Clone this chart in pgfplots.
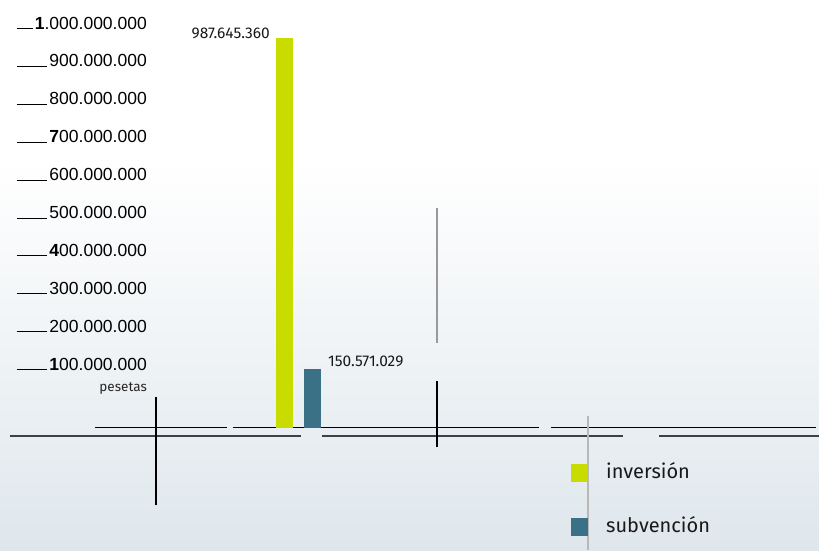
\documentclass[border=0pt]{standalone}
\usepackage{fontspec}
\setmainfont{Liberation Sans}
\newfontfamily\labelfont{Fira Sans}
\usepackage{pgfplots}
\pgfplotsset{compat=1.18}

\definecolor{inv}{HTML}{C8DC00}
\definecolor{sub}{HTML}{3B7186}
\definecolor{bgbot}{HTML}{DFE7EC}

% dash + label, right aligned
\newcommand{\tl}[1]{\hbox to 130pt{\leaders\hrule height 0.9pt\hfill\kern2pt #1}}

\begin{document}
\begin{tikzpicture}
\path[use as bounding box] (0,0) rectangle (819pt,550pt);
\fill[white] (0,0) rectangle (819pt,550pt);
\shade[top color=white,bottom color=bgbot] (0,0) rectangle (819pt,390pt);

% decoration, pixel coords (y down)
\begin{scope}[x=1pt,y=-1pt,yshift=550pt]
\draw[black,line width=1.2pt] (95,427.5)--(227,427.5) (233,427.5)--(539,427.5) (551,427.5)--(816,427.5);
\draw[black!75,line width=2pt] (10,436)--(301,436) (322,436)--(623,436) (659,436)--(819,436);
\draw[black,line width=1.3pt] (156,397)--(156,505);
\draw[black!40,line width=1.3pt] (437,208)--(437,343);
\draw[black,line width=1.2pt] (437,381)--(437,447);
\draw[black!28,line width=2pt] (588,416)--(588,550);
\node[anchor=east,inner sep=0pt,font=\labelfont\fontsize{13.5}{13.5}\selectfont,text=black!85] at (147,389) {pesetas};
\end{scope}

% scale labels
\begin{axis}[
    at={(150pt,148.1pt)}, anchor=south west,
    scale only axis, width=10pt, height=378.9pt,
    xmin=0, xmax=1, ymin=0, ymax=1000,
    axis x line=none, axis y line=left,
    y axis line style={draw=none},
    major tick length=0pt,
    ytick={100,200,300,400,500,600,700,800,900,1000},
    yticklabels={\tl{\textbf{1}00.000.000},\tl{200.000.000},\tl{300.000.000},
        \tl{\textbf{4}00.000.000},\tl{500.000.000},\tl{600.000.000},
        \tl{\textbf{7}00.000.000},\tl{800.000.000},\tl{900.000.000},
        \tl{\textbf{1}.000.000.000}},
    yticklabel style={anchor=east,inner sep=0pt,xshift=-3pt,
        font=\fontsize{17.5}{17.5}\selectfont,text=black},
]
\end{axis}

% bars
\begin{axis}[
    at={(0pt,122pt)}, anchor=south west,
    scale only axis, width=819pt, height=428pt,
    xmin=0, xmax=819, ymin=0, ymax=1083900000,
    hide axis, clip=false,
    ybar, bar width=17, bar shift=0pt,
    point meta=explicit symbolic,
    nodes near coords,
    every node near coord/.append style={inner sep=0pt,
        font=\labelfont\fontsize{15.5}{15.5}\selectfont,text=black!90},
    legend style={at={(rel axis cs:0.6972,-0.0797)},anchor=north west,
        draw=none,fill=none,inner sep=0pt,row sep=34.5pt,
        font=\labelfont\fontsize{20}{20}\selectfont,text=black!90,
        nodes={inner sep=0pt},
        /tikz/every odd column/.append style={column sep=18pt}},
    legend cell align=left,
    legend image code/.code={\draw[#1,draw=none] (0pt,-11pt) rectangle (17pt,7pt);},
]
\addplot[fill=inv,draw=none,
    every node near coord/.append style={anchor=east,xshift=-14.5pt,yshift=5pt}]
    coordinates {(284.5,987645360) [987.645.360]};
\addplot[fill=sub,draw=none,
    every node near coord/.append style={anchor=west,xshift=15.5pt,yshift=7pt}]
    coordinates {(312.5,150571029) [150.571.029]};
\legend{inversión,subvención}
\end{axis}
\end{tikzpicture}
\end{document}
